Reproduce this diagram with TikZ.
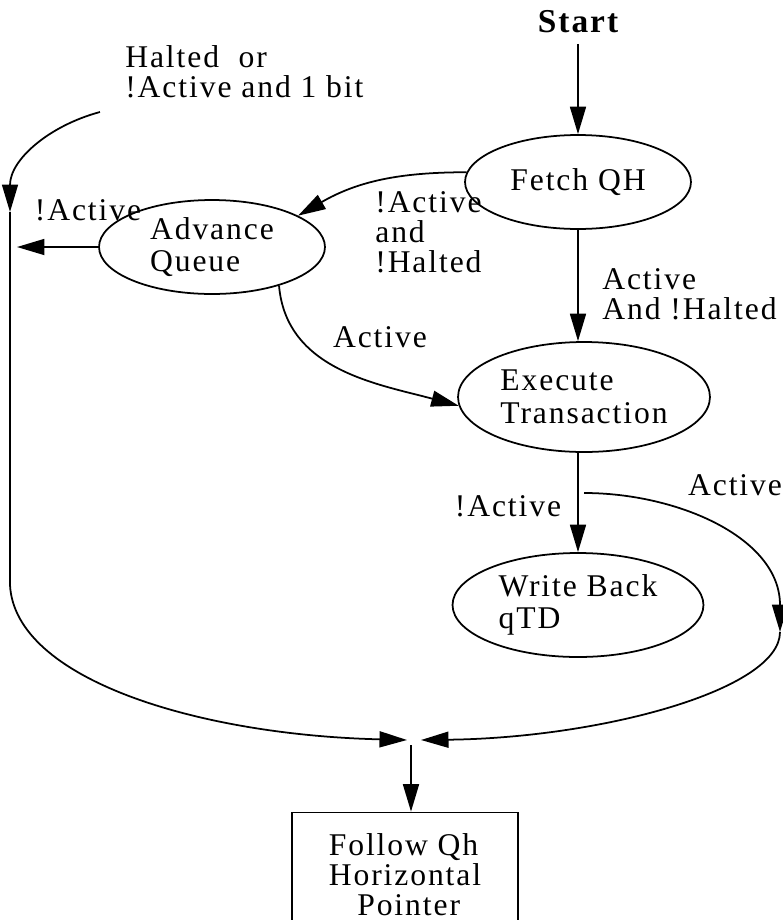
\documentclass[tikz,border=0pt]{standalone}
\usepackage{fontspec}
\setmainfont{Liberation Serif}
\newfontfamily\diagfont[LetterSpace=6]{Liberation Serif}
\usetikzlibrary{shapes.geometric,arrows.meta,positioning}
\tikzset{
  state/.style={ellipse,draw=black,line width=1pt,minimum width=4.52cm,minimum height=1.88cm,
              inner sep=0pt,align=left,font=\diagfont\fontsize{18}{18.5}\selectfont},
  procbox/.style={rectangle,draw=black,line width=1pt,minimum width=4.52cm,minimum height=2.5cm,
              inner sep=0pt,align=left,font=\diagfont\fontsize{18}{17}\selectfont},
  lbl/.style={align=left,inner sep=0pt,font=\diagfont\fontsize{18}{17}\selectfont},
  flow/.style={-{Triangle[length=5.5mm,width=3.2mm]},line width=1pt},
}
\begin{document}
\begin{tikzpicture}[x=0.02cm,y=0.02cm]
  \useasboundingbox (0,0) rectangle (783,-920);
  \clip (0,0) rectangle (783,-920);

  \node[lbl,font=\diagfont\bfseries\fontsize{19}{20}\selectfont,outer sep=6pt] (start) at (578,-22) {Start};
  \node[state] (fetch) at (578,-182) {Fetch QH};
  \node[state] (advance) at (212,-247) {Advance\\Queue};
  \node[state,minimum width=5.04cm,minimum height=2.2cm] (exec) at (584,-397) {Execute\\Transaction};
  \node[state,minimum width=5.02cm,minimum height=2.08cm] (wback) at (578,-605) {Write Back\\qTD};
  \node[procbox] (follow) at (405,-875) {Follow Qh\\Horizontal\\\hspace*{0.9em}Pointer};

  \coordinate (haltsrc) at (100,-112);
  \coordinate (railtop) at (10,-212);
  \coordinate (railhit) at (17,-247);
  \coordinate (railbot) at (10,-585);
  \coordinate (mergeL) at (407,-740);
  \coordinate (mergeR) at (421,-740);
  \coordinate (merge) at (411,-745);
  \coordinate (branch) at (584,-493);
  \coordinate (rightpt) at (780,-632);

  \draw[flow] (start.south) -- (fetch.north);
  \draw[flow] (fetch.175) to[out=180,in=30] (advance.20);
  \draw[flow] (advance.west) -- (railhit);
  \draw[flow] (haltsrc) to[out=195,in=90] (railtop);
  \draw[flow] (railtop) -- (railbot) .. controls (15,-680) and (200,-735) .. (mergeL);
  \draw[flow] (advance.-30) to[out=-85,in=165] (exec.184);
  \draw[flow] (fetch.south) -- (fetch.south |- exec.north);
  \draw[flow] (exec.south -| wback.north) -- (wback.north);
  \draw[flow] (branch) to[out=0,in=90] (rightpt);
  \draw[flow] (rightpt) .. controls (780,-690) and (600,-738) .. (mergeR);
  \draw[flow] (merge) -- (merge |- follow.north);

  \node[lbl,anchor=west] (haltlbl) at (125,-72) {Halted\ \ or\\!Active and 1 bit};
  \node[lbl] (inactlbl) at (88,-210) {!Active};
  \node[lbl,anchor=west] (fadvlbl) at (375,-232) {!Active\\and\\!Halted};
  \node[lbl,anchor=west] (fexlbl) at (602,-294) {Active\\And !Halted};
  \node[lbl] (advexlbl) at (380,-337) {Active};
  \node[lbl] (exwblbl) at (508,-506) {!Active};
  \node[lbl] (exmglbl) at (735,-485) {Active};
\end{tikzpicture}
\end{document}
